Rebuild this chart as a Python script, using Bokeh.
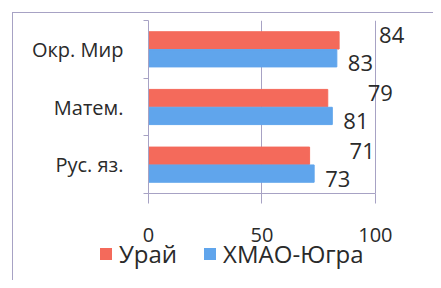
from bokeh.plotting import figure
from bokeh.layouts import column
from bokeh.core.properties import value
from bokeh.models import (Range1d, FixedTicker, ColumnDataSource, LabelSet, Legend, LegendItem)
from bokeh.embed import file_html
from bokeh.resources import INLINE

categories = ["Окр. Мир", "Матем.", "Рус. яз."]
series_names = ["Урай", "ХМАО-Югра"]
uray = [84, 79, 71]
hmao = [83, 81, 73]
x_ticks = [0, 50, 100]

RED = "#f46a5b"
BLUE = "#60a5ec"
LINE = "#a7a2c4"
TXT = "#2a2a2a"
FONT = "Open Sans"

n = len(categories)
centers = [n - 1 - i + 0.5 for i in range(n)]
shift = 0.155
bar_h = 0.3

p = figure(width=433, height=253, output_backend="svg", toolbar_location=None,
           x_range=Range1d(0, 125.6), y_range=Range1d(0, n),
           min_border_left=148, min_border_right=0, min_border_top=20, min_border_bottom=60)
p.frame_align = False
p.styles = {"background": ("linear-gradient(%s,%s) 12px 12px / 1px 100%% no-repeat, "
                           "linear-gradient(%s,%s) 12px 12px / 100%% 1px no-repeat, white") % (LINE, LINE, LINE, LINE)}
p.outline_line_color = None
p.background_fill_color = "white"
p.border_fill_alpha = 0

src_r = ColumnDataSource(dict(y=[c + shift for c in centers], v=uray, t=[str(v) for v in uray]))
src_b = ColumnDataSource(dict(y=[c - shift for c in centers], v=hmao, t=[str(v) for v in hmao]))
p.hbar(y="y", right="v", left=0, height=bar_h, source=src_r, color=RED)
p.hbar(y="y", right="v", left=0, height=bar_h, source=src_b, color=BLUE)

p.add_layout(LabelSet(x="v", y="y", text="t", source=src_r, x_offset=40, y_offset=5,
                      text_baseline="middle", text_font=value(FONT), text_font_size="22px", text_color=TXT))
p.add_layout(LabelSet(x="v", y="y", text="t", source=src_b, x_offset=11, y_offset=-5,
                      text_baseline="middle", text_font=value(FONT), text_font_size="22px", text_color=TXT))

# axes
p.xaxis.ticker = FixedTicker(ticks=x_ticks)
p.xaxis.bounds = (0, 100)
p.xaxis.axis_line_color = LINE
p.xaxis.major_tick_line_color = LINE
p.xaxis.major_tick_out = 10
p.xaxis.major_tick_in = 0
p.xaxis.minor_tick_line_color = None
p.xaxis.major_label_standoff = 24
p.xaxis.major_label_text_font = FONT
p.xaxis.major_label_text_font_size = "20px"
p.xaxis.major_label_text_color = TXT

p.yaxis.ticker = FixedTicker(ticks=centers, minor_ticks=list(range(n + 1)))
p.yaxis.major_label_overrides = {c: categories[i] for i, c in enumerate(centers)}
p.yaxis.axis_line_color = LINE
p.yaxis.major_tick_line_color = None
p.yaxis.major_tick_out = 0
p.yaxis.minor_tick_line_color = LINE
p.yaxis.minor_tick_out = 5
p.yaxis.minor_tick_in = 0
p.yaxis.major_label_standoff = 20
p.yaxis.major_label_text_font = FONT
p.yaxis.major_label_text_font_size = "20px"
p.yaxis.major_label_text_color = TXT

p.ygrid.grid_line_color = None
p.xgrid.ticker = FixedTicker(ticks=x_ticks[1:])
p.xgrid.grid_line_color = LINE

# legend row
lg = figure(width=433, height=48, output_backend="svg", toolbar_location=None,
            x_range=Range1d(0, 1), y_range=Range1d(0, 1),
            x_axis_location=None, y_axis_location=None,
            min_border_left=0, min_border_right=0, min_border_top=0, min_border_bottom=0)
lg.frame_align = False
lg.margin = (-21, 0, 0, 0)
lg.styles = {"background": "linear-gradient(%s,%s) 12px 0px / 1px 100%% no-repeat" % (LINE, LINE)}
lg.outline_line_color = None
lg.background_fill_alpha = 0
lg.border_fill_alpha = 0
lg.grid.visible = False
lr1 = lg.hbar(y=[0.5], right=[0], left=0, height=1, fill_color=RED, line_color=None)
lr2 = lg.hbar(y=[0.5], right=[0], left=0, height=1, fill_color=BLUE, line_color=None)
legend = Legend(items=[LegendItem(label=series_names[0], renderers=[lr1]),
                       LegendItem(label=series_names[1], renderers=[lr2])],
                orientation="horizontal", location=(98, 10),
                glyph_width=15, glyph_height=15, label_standoff=6, spacing=25,
                padding=0, margin=0, border_line_color=None, background_fill_alpha=0,
                label_text_font=FONT, label_text_font_size="24px", label_text_color=TXT)
lg.add_layout(legend, "center")

layout = column(p, lg, spacing=0)
open("out.html", "w").write(file_html(layout, INLINE))
